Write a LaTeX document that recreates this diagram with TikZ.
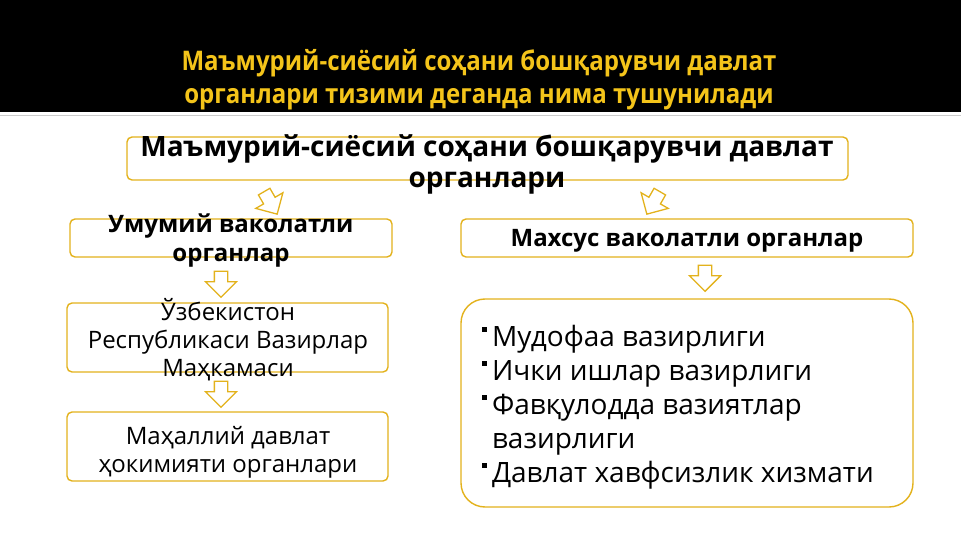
\documentclass[tikz,border=0pt]{standalone}
\usepackage{fontspec}
\setmainfont{Open Sans}
\newfontfamily\titlefont[FakeStretch=0.89]{Open Sans}
\usetikzlibrary{shapes.arrows}
\definecolor{gold}{HTML}{E3B21C}
\definecolor{titleyellow}{HTML}{F4C41A}
\tikzset{
  box/.style={draw=gold, line width=1.4pt, rounded corners=5pt, fill=white},
  blockarrow/.style={single arrow, draw=gold, fill=white, line width=1.3pt,
    minimum height=26pt, inner sep=6pt, single arrow head extend=9pt},
  bold head/.style={font=\bfseries\fontsize{24}{29}\selectfont, align=center},
  plain text/.style={font=\fontsize{24}{28}\selectfont, align=center}
}
\newcommand{\bul}{\makebox[10.5pt][l]{\raisebox{14.5pt}{\rule{5pt}{5pt}}}}
\begin{document}
\begin{tikzpicture}[x=1pt,y=-1pt]
  \useasboundingbox (0,0) rectangle (961,540);
  % header
  \fill[black] (0,0) rectangle (961,112);
  \draw[gray!40, line width=1pt] (0,115.5) -- (961,115.5);
  \node[font=\titlefont\bfseries\fontsize{27}{33}\selectfont, text=titleyellow, align=center] (title) at (479,80)
    {Маъмурий-сиёсий соҳани бошқарувчи давлат\\органлари тизими деганда нима тушунилади};
  % top box
  \node[box, minimum width=721pt, minimum height=43pt] (top) at (487.5,158.5) {};
  \node[bold head, font=\bfseries\fontsize{28}{31}\selectfont] (toptext) at (487,164)
    {Маъмурий-сиёсий соҳани бошқарувчи давлат\\органлари};
  % second row
  \node[box, minimum width=322pt, minimum height=38pt] (gen) at (231,238) {};
  \node[bold head] (gentext) at (231,241) {Умумий ваколатли\\органлар};
  \node[box, minimum width=452pt, minimum height=38pt] (spec) at (687,238) {};
  \node[bold head] (spectext) at (687,241) {Махсус ваколатли органлар};
  % left column
  \node[box, minimum width=321pt, minimum height=69pt] (cab) at (227.5,337.5) {};
  \node[plain text] (cabtext) at (228,340) {Ўзбекистон\\Республикаси Вазирлар\\Маҳкамаси};
  \node[box, minimum width=321pt, minimum height=69pt] (loc) at (227.5,446.5) {};
  \node[plain text] (loctext) at (228,452) {Маҳаллий давлат\\ҳокимияти органлари};
  % right list
  \node[box, rounded corners=24pt, minimum width=452pt, minimum height=208pt] (list) at (687,403) {};
  \node[font=\fontsize{28}{34}\selectfont, align=left, anchor=west] (listtext) at (478,407)
    {\bul Мудофаа вазирлиги\\ \bul Ички ишлар вазирлиги\\ \bul Фавқулодда вазиятлар\\
     \hphantom{\bul}вазирлиги\\ \bul Давлат хавфсизлик хизмати};
  % arrows
  \node[blockarrow, rotate=-60] (a1) at (269,200) {};
  \node[blockarrow, rotate=-120] (a2) at (655,200) {};
  \node[blockarrow, rotate=-90] (a3) at (221,281) {};
  \node[blockarrow, rotate=-90] (a4) at (705,275) {};
  \node[blockarrow, rotate=-90] (a5) at (221,391) {};
\end{tikzpicture}
\end{document}
